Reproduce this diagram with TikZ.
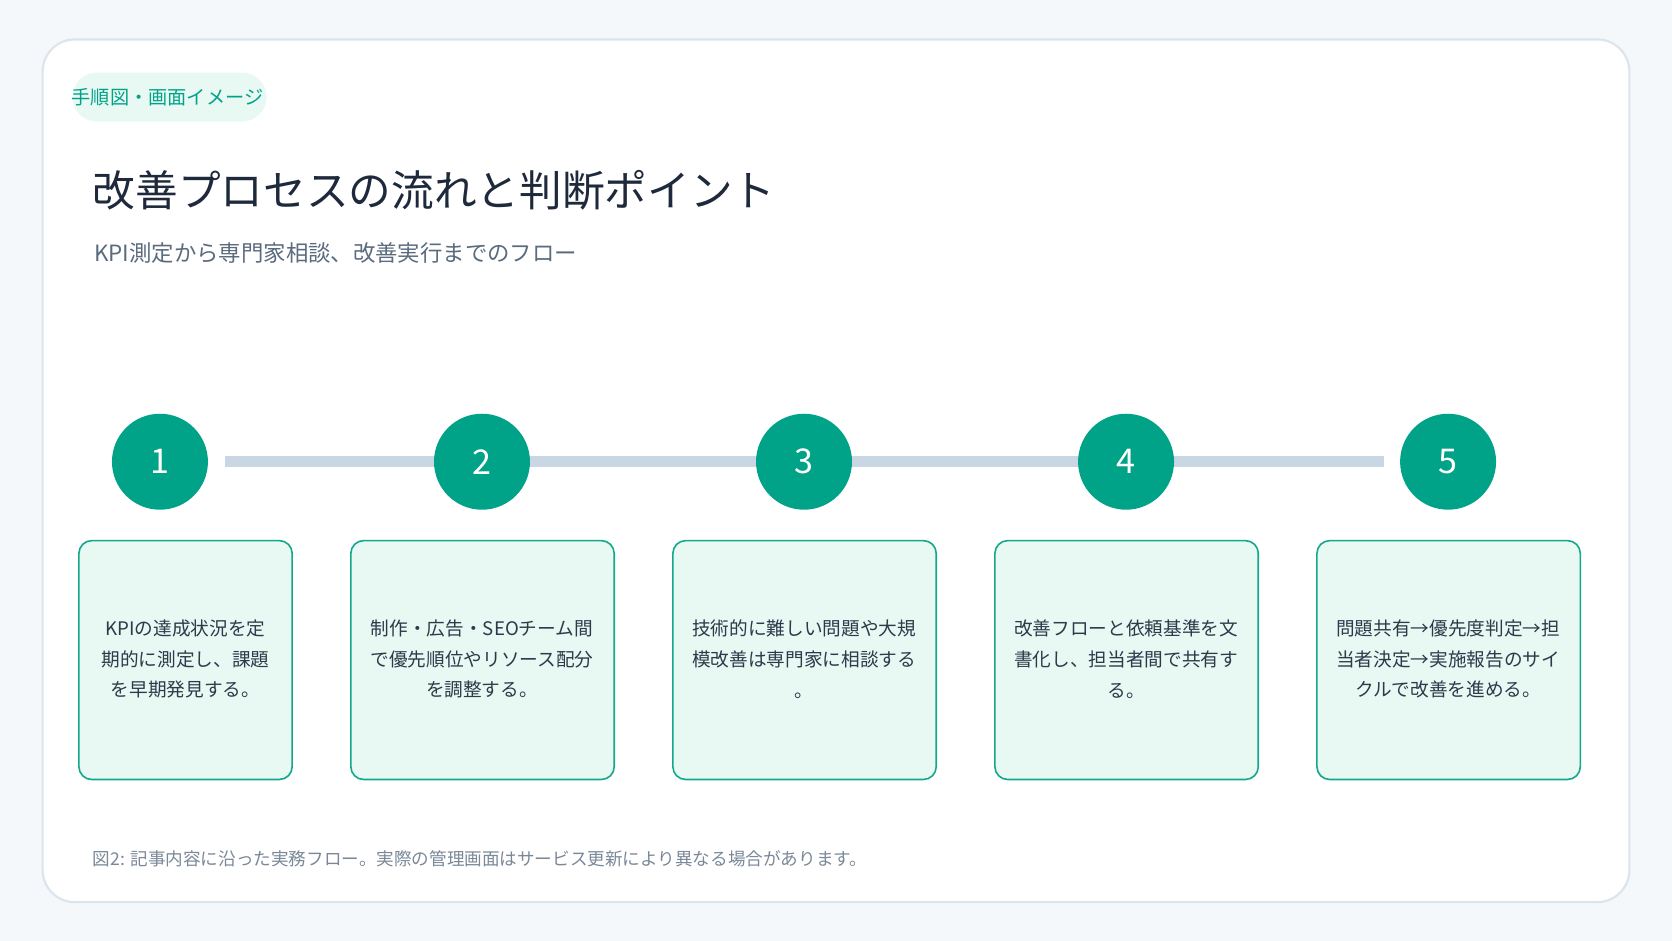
\documentclass[tikz,border=0pt]{standalone}
\usepackage{fontspec}
\setmainfont{Noto Sans CJK JP}
\begin{document}
\begin{tikzpicture}[x=1pt,y=-1pt,
  box/.style={draw=boxline,fill=boxfill,line width=1.5pt,rounded corners=12pt},
  stepc/.style={circle,fill=teal0,minimum size=90pt,inner sep=0pt,text=white,font=\fontsize{32}{36}\selectfont},
  btxt/.style={align=center,text=bodytxt,font=\fontsize{17.5}{29}\selectfont,inner sep=0pt}]
\definecolor{bg}{HTML}{F5F8FB}
\definecolor{cardline}{HTML}{DCE4EC}
\definecolor{teal0}{HTML}{00A388}
\definecolor{boxfill}{HTML}{E8F8F3}
\definecolor{boxline}{HTML}{13A88C}
\definecolor{bodytxt}{HTML}{2C3A4A}
\definecolor{linec}{HTML}{C9D6E3}
\definecolor{titlec}{HTML}{1E2A3C}
\definecolor{subc}{HTML}{5A6B7E}
\definecolor{capc}{HTML}{7A8898}
\useasboundingbox (0,0) rectangle (1568,882);
\fill[bg] (0,0) rectangle (1568,882);
\draw[cardline,fill=white,line width=2pt,rounded corners=30pt] (40,37) rectangle (1528,846);
\fill[boxfill,rounded corners=23pt] (68,68) rectangle (250,114);
\node[anchor=west,inner sep=0pt,text=teal0,font=\fontsize{18}{20}\selectfont] (tag) at (67,91) {手順図・画面イメージ};
\node[anchor=west,inner sep=0pt,text=titlec,font=\fontsize{40}{44}\selectfont] (title) at (87,178) {改善プロセスの流れと判断ポイント};
\node[anchor=west,inner sep=0pt,text=subc,font=\fontsize{21}{24}\selectfont] (sub) at (88,237) {KPI測定から専門家相談、改善実行までのフロー};
\coordinate (ls) at (211,433);
\coordinate (le) at (1298,433);
\draw[linec,line width=10pt] (ls) -- (le);
\foreach \i/\x in {1/150,2/452,3/754,4/1056,5/1358}{
  \node[stepc] (c\i) at (\x,433) {\i};
}
\draw[box] (74,507) rectangle (274,731);
\draw[box] (329,507) rectangle (576,731);
\draw[box] (631,507) rectangle (878,731);
\draw[box] (933,507) rectangle (1180,731);
\draw[box] (1235,507) rectangle (1482,731);
\node[btxt] (t1) at (174,618) {KPIの達成状況を定\\期的に測定し、課題\\を早期発見する。};
\node[btxt] (t2) at (452,618) {制作・広告・SEOチーム間\\で優先順位やリソース配分\\を調整する。};
\node[btxt] (t3) at (754,618) {技術的に難しい問題や大規\\模改善は専門家に相談する\\。};
\node[btxt] (t4) at (1056,618) {改善フローと依頼基準を文\\書化し、担当者間で共有す\\る。};
\node[btxt] (t5) at (1358,618) {問題共有→優先度判定→担\\当者決定→実施報告のサイ\\クルで改善を進める。};
\node[anchor=west,inner sep=0pt,text=capc,font=\fontsize{16.5}{20}\selectfont] (cap) at (87,805) {図2: 記事内容に沿った実務フロー。実際の管理画面はサービス更新により異なる場合があります。};
\end{tikzpicture}
\end{document}
